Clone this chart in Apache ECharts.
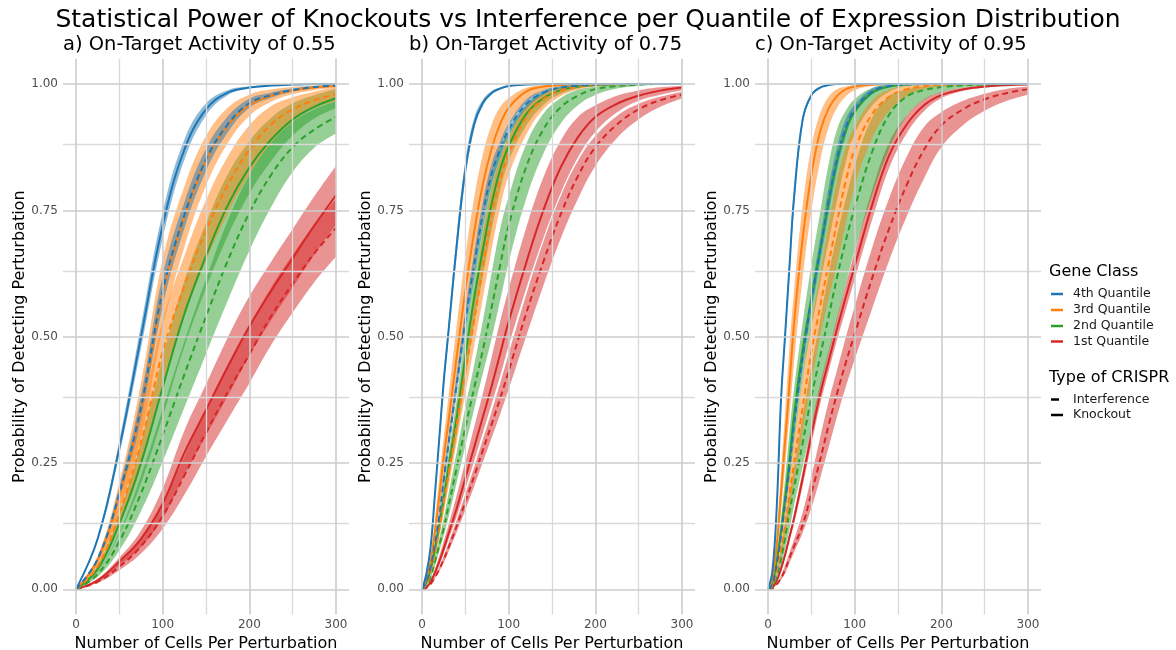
<!DOCTYPE html>
<html>
<head>
<meta charset="utf-8">
<script src="https://cdn.jsdelivr.net/npm/echarts@6/dist/echarts.min.js"></script>
<style>
  html, body { margin: 0; padding: 0; background: #ffffff; }
  #chart { width: 1176px; height: 650px; }
</style>
</head>
<body>
<div id="chart"></div>
<script>
// ---- Cell counts at which the power curves are evaluated ----
const cellsA = [0, 25, 50, 75, 100, 125, 150, 175, 200, 225, 250, 275, 300];
const cellsBC = [0, 5, 10, 15, 20, 25, 30, 40, 50, 60, 70, 80, 90, 100, 120, 140, 160, 180, 200, 225, 250, 275, 300];

// ---- Panel a: on-target activity 0.55 ----
// ko = knockout, ci = interference; 4..1 = expression quantile; lo/hi = ribbon bounds
const koA4   = [0, 0.10, 0.28, 0.50, 0.72, 0.87, 0.95, 0.983, 0.993, 0.997, 0.999, 1.0, 1.0];
const koA4lo = [0, 0.095, 0.266, 0.477, 0.694, 0.85, 0.938, 0.978, 0.991, 0.996, 0.998, 0.999, 1.0];
const koA4hi = [0, 0.105, 0.294, 0.523, 0.746, 0.89, 0.962, 0.988, 0.995, 0.998, 1.0, 1.0, 1.0];
const ciA4   = [0, 0.06, 0.19, 0.36, 0.59, 0.74, 0.85, 0.92, 0.962, 0.978, 0.988, 0.994, 0.997];
const ciA4lo = [0, 0.056, 0.178, 0.336, 0.56, 0.714, 0.828, 0.904, 0.953, 0.973, 0.985, 0.992, 0.996];
const ciA4hi = [0, 0.064, 0.202, 0.384, 0.62, 0.766, 0.872, 0.936, 0.971, 0.983, 0.991, 0.996, 0.998];
const koA3   = [0, 0.058, 0.185, 0.355, 0.585, 0.737, 0.848, 0.918, 0.958, 0.977, 0.987, 0.993, 0.996];
const koA3lo = [0, 0.05, 0.158, 0.301, 0.517, 0.677, 0.799, 0.883, 0.937, 0.965, 0.98, 0.988, 0.993];
const koA3hi = [0, 0.066, 0.212, 0.409, 0.653, 0.797, 0.897, 0.953, 0.979, 0.989, 0.994, 0.997, 0.999];
const ciA3   = [0, 0.045, 0.15, 0.29, 0.47, 0.60, 0.71, 0.80, 0.87, 0.92, 0.95, 0.968, 0.98];
const ciA3lo = [0, 0.038, 0.126, 0.242, 0.408, 0.54, 0.65, 0.744, 0.822, 0.884, 0.926, 0.952, 0.966];
const ciA3hi = [0, 0.053, 0.175, 0.338, 0.532, 0.66, 0.77, 0.856, 0.918, 0.956, 0.974, 0.985, 0.994];
const koA2   = [0, 0.04, 0.13, 0.25, 0.40, 0.545, 0.66, 0.76, 0.835, 0.89, 0.93, 0.955, 0.972];
const koA2lo = [0, 0.034, 0.109, 0.21, 0.341, 0.48, 0.596, 0.699, 0.783, 0.847, 0.898, 0.932, 0.952];
const koA2hi = [0, 0.047, 0.151, 0.291, 0.459, 0.61, 0.725, 0.821, 0.887, 0.933, 0.962, 0.978, 0.99];
const ciA2   = [0, 0.03, 0.095, 0.19, 0.305, 0.425, 0.54, 0.65, 0.745, 0.82, 0.875, 0.91, 0.935];
const ciA2lo = [0, 0.025, 0.077, 0.155, 0.253, 0.36, 0.466, 0.571, 0.67, 0.756, 0.826, 0.874, 0.902];
const ciA2hi = [0, 0.035, 0.113, 0.225, 0.357, 0.49, 0.614, 0.729, 0.82, 0.884, 0.925, 0.95, 0.966];
const koA1   = [0, 0.018, 0.055, 0.10, 0.17, 0.27, 0.355, 0.44, 0.52, 0.59, 0.655, 0.72, 0.78];
const koA1lo = [0, 0.015, 0.047, 0.084, 0.14, 0.226, 0.304, 0.382, 0.462, 0.532, 0.597, 0.662, 0.722];
const koA1hi = [0, 0.021, 0.063, 0.116, 0.20, 0.314, 0.406, 0.498, 0.58, 0.648, 0.713, 0.778, 0.838];
const ciA1   = [0, 0.015, 0.045, 0.085, 0.145, 0.225, 0.31, 0.39, 0.465, 0.54, 0.605, 0.665, 0.715];
const ciA1lo = [0, 0.013, 0.038, 0.071, 0.12, 0.187, 0.263, 0.336, 0.408, 0.483, 0.548, 0.608, 0.658];
const ciA1hi = [0, 0.017, 0.052, 0.099, 0.17, 0.263, 0.357, 0.444, 0.522, 0.597, 0.662, 0.722, 0.772];

// ---- Panel b: on-target activity 0.75 ----
const koB4   = [0, 0.03, 0.085, 0.19, 0.30, 0.41, 0.50, 0.68, 0.83, 0.92, 0.962, 0.982, 0.991, 0.996, 0.999, 1, 1, 1, 1, 1, 1, 1, 1];
const koB4lo = [0, 0.029, 0.080, 0.180, 0.287, 0.395, 0.484, 0.660, 0.812, 0.908, 0.956, 0.979, 0.989, 0.995, 0.999, 1, 1, 1, 1, 1, 1, 1, 1];
const koB4hi = [0, 0.031, 0.090, 0.200, 0.313, 0.425, 0.516, 0.700, 0.848, 0.932, 0.969, 0.986, 0.993, 0.997, 1, 1, 1, 1, 1, 1, 1, 1, 1];
const ciB4   = [0, 0.015, 0.045, 0.09, 0.145, 0.215, 0.28, 0.405, 0.53, 0.64, 0.74, 0.82, 0.87, 0.91, 0.96, 0.983, 0.993, 0.997, 0.999, 1, 1, 1, 1];
const ciB4lo = [0, 0.014, 0.042, 0.084, 0.135, 0.2015, 0.265, 0.385, 0.506, 0.615, 0.715, 0.799, 0.854, 0.898, 0.951, 0.979, 0.991, 0.996, 0.9986, 0.9996, 1, 1, 1];
const ciB4hi = [0, 0.016, 0.048, 0.096, 0.155, 0.2285, 0.295, 0.425, 0.554, 0.665, 0.765, 0.841, 0.886, 0.922, 0.969, 0.988, 0.995, 0.998, 0.9994, 1, 1, 1, 1];
const koB3   = [0, 0.02, 0.055, 0.115, 0.185, 0.26, 0.325, 0.46, 0.59, 0.705, 0.80, 0.87, 0.92, 0.953, 0.985, 0.995, 0.998, 1, 1, 1, 1, 1, 1];
const koB3lo = [0, 0.018, 0.0475, 0.096, 0.155, 0.217, 0.283, 0.40, 0.52, 0.632, 0.729, 0.81, 0.872, 0.917, 0.964, 0.987, 0.9954, 0.998, 1, 1, 1, 1, 1];
const koB3hi = [0, 0.024, 0.069, 0.14, 0.221, 0.299, 0.373, 0.522, 0.659, 0.773, 0.859, 0.918, 0.954, 0.972, 0.992, 0.9975, 1, 1, 1, 1, 1, 1, 1];
const ciB3   = [0, 0.01, 0.036, 0.073, 0.12, 0.172, 0.222, 0.325, 0.43, 0.53, 0.635, 0.735, 0.81, 0.862, 0.935, 0.97, 0.987, 0.995, 0.998, 0.9995, 1, 1, 1];
const ciB3lo = [0, 0.0092, 0.0316, 0.0638, 0.1045, 0.1503, 0.197, 0.291, 0.387, 0.48, 0.574, 0.669, 0.754, 0.819, 0.899, 0.95, 0.976, 0.989, 0.9955, 0.9985, 0.9998, 1, 1];
const ciB3hi = [0, 0.0123, 0.0427, 0.0857, 0.1387, 0.1945, 0.25, 0.363, 0.475, 0.587, 0.698, 0.789, 0.852, 0.895, 0.954, 0.981, 0.993, 0.9974, 0.9992, 1, 1, 1, 1];
const koB2   = [0, 0.013, 0.04, 0.08, 0.128, 0.18, 0.235, 0.34, 0.46, 0.575, 0.67, 0.76, 0.83, 0.877, 0.94, 0.972, 0.988, 0.995, 0.998, 0.9995, 1, 1, 1];
const koB2lo = [0, 0.0114, 0.0346, 0.0694, 0.112, 0.1586, 0.2093, 0.3038, 0.4128, 0.5246, 0.6179, 0.7088, 0.7875, 0.8474, 0.917, 0.9586, 0.9806, 0.9914, 0.9964, 0.999, 1, 1, 1];
const koB2hi = [0, 0.0146, 0.0454, 0.0906, 0.144, 0.2014, 0.2607, 0.3762, 0.5072, 0.6254, 0.7221, 0.8112, 0.8725, 0.9066, 0.958, 0.9854, 0.9954, 0.9986, 0.9996, 1, 1, 1, 1];
const ciB2   = [0, 0.008, 0.025, 0.055, 0.088, 0.12, 0.16, 0.24, 0.32, 0.397, 0.472, 0.555, 0.64, 0.72, 0.835, 0.91, 0.954, 0.977, 0.99, 0.996, 0.999, 1, 1];
const ciB2lo = [0, 0.0073, 0.0219, 0.0468, 0.076, 0.1055, 0.1382, 0.211, 0.284, 0.356, 0.4255, 0.494, 0.5705, 0.647, 0.772, 0.862, 0.922, 0.9581, 0.9782, 0.991, 0.9963, 0.999, 1];
const ciB2hi = [0, 0.0097, 0.031, 0.0649, 0.1008, 0.14, 0.184, 0.272, 0.36, 0.442, 0.5295, 0.623, 0.712, 0.7775, 0.88, 0.941, 0.9724, 0.9887, 0.9948, 0.9987, 1, 1, 1];
const koB1   = [0, 0.004, 0.015, 0.033, 0.055, 0.08, 0.107, 0.16, 0.22, 0.28, 0.34, 0.40, 0.465, 0.53, 0.645, 0.75, 0.835, 0.895, 0.935, 0.961, 0.977, 0.987, 0.993];
const koB1lo = [0, 0.0037, 0.0134, 0.029, 0.0485, 0.0707, 0.095, 0.144, 0.198, 0.253, 0.309, 0.365, 0.421, 0.482, 0.594, 0.695, 0.784, 0.855, 0.905, 0.944, 0.967, 0.979, 0.988];
const koB1hi = [0, 0.0052, 0.019, 0.0403, 0.066, 0.095, 0.124, 0.186, 0.253, 0.32, 0.386, 0.457, 0.529, 0.594, 0.714, 0.815, 0.888, 0.935, 0.958, 0.977, 0.9875, 0.9935, 0.996];
const ciB1   = [0, 0.003, 0.011, 0.024, 0.04, 0.059, 0.08, 0.125, 0.173, 0.223, 0.274, 0.325, 0.377, 0.432, 0.545, 0.648, 0.742, 0.818, 0.875, 0.92, 0.95, 0.968, 0.979];
const ciB1lo = [0, 0.0028, 0.0100, 0.0215, 0.0358, 0.0526, 0.0719, 0.113, 0.157, 0.203, 0.251, 0.298, 0.346, 0.396, 0.50, 0.601, 0.694, 0.773, 0.838, 0.8935, 0.93, 0.955, 0.9714];
const ciB1hi = [0, 0.0035, 0.0126, 0.0269, 0.0446, 0.0653, 0.088, 0.1365, 0.188, 0.241, 0.295, 0.35, 0.407, 0.466, 0.582, 0.688, 0.778, 0.848, 0.897, 0.937, 0.961, 0.975, 0.985];

// ---- Panel c: on-target activity 0.95 ----
const koC4   = [0, 0.035, 0.16, 0.375, 0.51, 0.645, 0.775, 0.93, 0.978, 0.993, 0.998, 1, 1, 1, 1, 1, 1, 1, 1, 1, 1, 1, 1];
const koC4lo = [0, 0.034, 0.153, 0.356, 0.494, 0.626, 0.752, 0.919, 0.974, 0.99, 0.997, 0.9995, 1, 1, 1, 1, 1, 1, 1, 1, 1, 1, 1];
const koC4hi = [0, 0.039, 0.173, 0.387, 0.526, 0.665, 0.789, 0.936, 0.98, 0.994, 0.998, 1, 1, 1, 1, 1, 1, 1, 1, 1, 1, 1, 1];
const ciC4   = [0, 0.01, 0.05, 0.107, 0.175, 0.245, 0.325, 0.46, 0.57, 0.67, 0.77, 0.855, 0.915, 0.95, 0.985, 0.996, 0.999, 1, 1, 1, 1, 1, 1];
const ciC4lo = [0, 0.009, 0.046, 0.0995, 0.164, 0.23, 0.308, 0.44, 0.549, 0.646, 0.744, 0.832, 0.898, 0.941, 0.979, 0.994, 0.998, 1, 1, 1, 1, 1, 1];
const ciC4hi = [0, 0.011, 0.054, 0.1145, 0.186, 0.26, 0.342, 0.48, 0.591, 0.694, 0.796, 0.878, 0.932, 0.959, 0.991, 0.998, 1, 1, 1, 1, 1, 1, 1];
const koC3   = [0, 0.02, 0.085, 0.19, 0.30, 0.41, 0.525, 0.695, 0.82, 0.905, 0.952, 0.977, 0.99, 0.995, 0.999, 1, 1, 1, 1, 1, 1, 1, 1];
const koC3lo = [0, 0.0177, 0.07, 0.154, 0.249, 0.347, 0.446, 0.617, 0.748, 0.846, 0.914, 0.954, 0.976, 0.988, 0.996, 0.999, 1, 1, 1, 1, 1, 1, 1];
const koC3hi = [0, 0.0285, 0.112, 0.233, 0.357, 0.485, 0.591, 0.76, 0.875, 0.941, 0.975, 0.99, 0.995, 0.998, 1, 1, 1, 1, 1, 1, 1, 1, 1];
const ciC3   = [0, 0.008, 0.035, 0.08, 0.13, 0.19, 0.25, 0.36, 0.47, 0.558, 0.645, 0.73, 0.81, 0.87, 0.94, 0.975, 0.99, 0.996, 0.999, 0.9997, 1, 1, 1];
const ciC3lo = [0, 0.007, 0.029, 0.064, 0.107, 0.155, 0.209, 0.31, 0.407, 0.498, 0.576, 0.647, 0.726, 0.798, 0.892, 0.947, 0.976, 0.99, 0.995, 0.998, 0.9995, 0.9999, 1];
const ciC3hi = [0, 0.0115, 0.047, 0.1, 0.161, 0.229, 0.293, 0.417, 0.529, 0.622, 0.723, 0.812, 0.876, 0.916, 0.967, 0.989, 0.996, 0.999, 1, 1, 1, 1, 1];
const koC2   = [0, 0.012, 0.055, 0.115, 0.185, 0.26, 0.345, 0.475, 0.575, 0.67, 0.765, 0.85, 0.91, 0.945, 0.983, 0.995, 0.999, 1, 1, 1, 1, 1, 1];
const koC2lo = [0, 0.0106, 0.045, 0.094, 0.153, 0.217, 0.286, 0.415, 0.517, 0.604, 0.689, 0.772, 0.847, 0.901, 0.957, 0.985, 0.996, 0.999, 1, 1, 1, 1, 1];
const koC2hi = [0, 0.0175, 0.071, 0.142, 0.224, 0.315, 0.396, 0.527, 0.642, 0.744, 0.842, 0.912, 0.948, 0.97, 0.992, 0.999, 1, 1, 1, 1, 1, 1, 1];
const ciC2   = [0, 0.005, 0.025, 0.06, 0.105, 0.155, 0.2, 0.29, 0.38, 0.46, 0.54, 0.62, 0.692, 0.755, 0.865, 0.94, 0.975, 0.988, 0.994, 0.9975, 0.999, 0.9998, 1];
const ciC2lo = [0, 0.0044, 0.0198, 0.046, 0.081, 0.12, 0.165, 0.243, 0.321, 0.398, 0.467, 0.537, 0.606, 0.67, 0.779, 0.872, 0.937, 0.969, 0.984, 0.9926, 0.9966, 0.9984, 0.9992];
const ciC2hi = [0, 0.0076, 0.0355, 0.08, 0.135, 0.189, 0.24, 0.344, 0.44, 0.532, 0.624, 0.704, 0.774, 0.838, 0.933, 0.976, 0.989, 0.995, 0.9986, 0.9996, 1, 1, 1];
const koC1   = [0, 0.004, 0.017, 0.04, 0.07, 0.105, 0.14, 0.22, 0.305, 0.385, 0.452, 0.518, 0.58, 0.64, 0.76, 0.86, 0.92, 0.958, 0.978, 0.9895, 0.995, 0.9978, 0.999];
const koC1lo = [0, 0.0036, 0.0154, 0.0364, 0.0641, 0.0971, 0.1296, 0.2051, 0.2863, 0.3647, 0.4315, 0.4953, 0.5545, 0.613, 0.7303, 0.8348, 0.9024, 0.9463, 0.9717, 0.9861, 0.9931, 0.9968, 0.9985];
const koC1hi = [0, 0.0044, 0.0186, 0.0436, 0.0759, 0.1129, 0.1504, 0.2349, 0.3237, 0.4053, 0.4725, 0.5407, 0.6055, 0.667, 0.7897, 0.8852, 0.9376, 0.9697, 0.9843, 0.9929, 0.9969, 0.9988, 0.9995];
const ciC1   = [0, 0.002, 0.01, 0.022, 0.04, 0.063, 0.085, 0.127, 0.19, 0.255, 0.325, 0.39, 0.45, 0.505, 0.615, 0.715, 0.80, 0.87, 0.918, 0.95, 0.97, 0.982, 0.99];
const ciC1lo = [0, 0.0018, 0.0085, 0.0187, 0.033, 0.053, 0.073, 0.112, 0.161, 0.219, 0.281, 0.344, 0.402, 0.455, 0.555, 0.652, 0.738, 0.813, 0.875, 0.9186, 0.947, 0.9666, 0.979];
const ciC1hi = [0, 0.0028, 0.0124, 0.0274, 0.049, 0.074, 0.098, 0.152, 0.223, 0.299, 0.372, 0.436, 0.5, 0.56, 0.675, 0.775, 0.856, 0.915, 0.944, 0.9668, 0.981, 0.9903, 0.995];

// ---- Labels, ticks and palette ----
const mainTitle = 'Statistical Power of Knockouts vs Interference per Quantile of Expression Distribution';
const panelTitles = ['a) On-Target Activity of 0.55', 'b) On-Target Activity of 0.75', 'c) On-Target Activity of 0.95'];
const xAxisTitle = 'Number of Cells Per Perturbation';
const yAxisTitle = 'Probability of Detecting Perturbation';
const geneClasses = ['4th Quantile', '3rd Quantile', '2nd Quantile', '1st Quantile'];
const classColors = ['#1f77b4', '#ff7f0e', '#2ca02c', '#d62728'];
const crisprTypes = ['Interference', 'Knockout'];
const xMajorTicks = [0, 100, 200, 300];
const xMinorTicks = [50, 150, 250];
const yMajorTicks = [0, 0.25, 0.5, 0.75, 1];
const yMinorTicks = [0.125, 0.375, 0.625, 0.875];

// Each panel: curves grouped by gene class (4th..1st), each [line, lower, upper]
const panels = [
  { cells: cellsA,
    ko: [[koA4, koA4lo, koA4hi], [koA3, koA3lo, koA3hi], [koA2, koA2lo, koA2hi], [koA1, koA1lo, koA1hi]],
    ci: [[ciA4, ciA4lo, ciA4hi], [ciA3, ciA3lo, ciA3hi], [ciA2, ciA2lo, ciA2hi], [ciA1, ciA1lo, ciA1hi]] },
  { cells: cellsBC,
    ko: [[koB4, koB4lo, koB4hi], [koB3, koB3lo, koB3hi], [koB2, koB2lo, koB2hi], [koB1, koB1lo, koB1hi]],
    ci: [[ciB4, ciB4lo, ciB4hi], [ciB3, ciB3lo, ciB3hi], [ciB2, ciB2lo, ciB2hi], [ciB1, ciB1lo, ciB1hi]] },
  { cells: cellsBC,
    ko: [[koC4, koC4lo, koC4hi], [koC3, koC3lo, koC3hi], [koC2, koC2lo, koC2hi], [koC1, koC1lo, koC1hi]],
    ci: [[ciC4, ciC4lo, ciC4hi], [ciC3, ciC3lo, ciC3hi], [ciC2, ciC2lo, ciC2hi], [ciC1, ciC1lo, ciC1hi]] }
];

// ---- Layout ----
const FONT = 'DejaVu Sans';
const panelLefts = [63, 409, 755];
const panelWidth = 286;
const panelTop = 58.8;
const panelHeight = 555.8;
const drawOrder = [3, 2, 1, 0];   // 1st quantile underneath, 4th on top
const SMOOTH = 0.4;

const majorGrid = { color: '#cccccc', width: 1.6, type: 'solid' };
const minorGrid = { color: '#d9d9d9', width: 1.3, type: 'solid' };

const grids = [], xAxes = [], yAxes = [], series = [], titles = [];

titles.push({
  text: mainTitle, left: 'center', top: 8, padding: 0,
  textStyle: { fontFamily: FONT, fontSize: 25, fontWeight: 'normal', color: '#000' }
});

panels.forEach((p, pi) => {
  grids.push({ left: panelLefts[pi], top: panelTop, width: panelWidth, height: panelHeight,
               containLabel: false, outerBoundsMode: 'none' });
  titles.push({
    text: panelTitles[pi], left: panelLefts[pi], top: 35, padding: 0,
    textStyle: { fontFamily: FONT, fontSize: 19.5, fontWeight: 'normal', color: '#000' }
  });
  xAxes.push({
    type: 'value', gridIndex: pi, min: -15, max: 315,
    axisLine: { show: false }, axisTick: { show: false }, splitLine: { show: false },
    axisLabel: { customValues: xMajorTicks, color: '#4d4d4d', fontSize: 12, fontFamily: FONT, margin: 4 },
    name: xAxisTitle, nameLocation: 'middle', nameGap: 17,
    nameTextStyle: { fontFamily: FONT, fontSize: 16, color: '#000', verticalAlign: 'top' }
  });
  yAxes.push({
    type: 'value', gridIndex: pi, min: -0.05, max: 1.05,
    axisLine: { show: false }, axisTick: { show: false }, splitLine: { show: false },
    axisLabel: { customValues: yMajorTicks, color: '#4d4d4d', fontSize: 12, fontFamily: FONT, margin: 5,
                 formatter: v => v.toFixed(2) },
    name: yAxisTitle, nameLocation: 'middle', nameGap: 34, nameRotate: 90,
    nameTextStyle: { fontFamily: FONT, fontSize: 16, color: '#000' }
  });

  // panel grid lines
  const gridLines = []
    .concat(xMinorTicks.map(v => ({ xAxis: v, lineStyle: minorGrid })))
    .concat(yMinorTicks.map(v => ({ yAxis: v, lineStyle: minorGrid })))
    .concat(xMajorTicks.map(v => ({ xAxis: v, lineStyle: majorGrid })))
    .concat(yMajorTicks.map(v => ({ yAxis: v, lineStyle: majorGrid })));
  series.push({
    type: 'line', xAxisIndex: pi, yAxisIndex: pi, data: [], silent: true, z: 0,
    markLine: { silent: true, symbol: ['none', 'none'], label: { show: false },
                emphasis: { disabled: true }, animation: false, data: gridLines }
  });

  // ribbons: lower bound plus stacked width; points are stored as [P, cells]
  // so that the stack runs along the probability dimension
  drawOrder.forEach(q => {
    ['ko', 'ci'].forEach(kind => {
      const [, lo, hi] = p[kind][q];
      const stackId = 'band-' + pi + '-' + q + '-' + kind;
      series.push({
        type: 'line', xAxisIndex: pi, yAxisIndex: pi, stack: stackId, stackStrategy: 'all',
        encode: { x: 1, y: 0 },
        data: p.cells.map((x, i) => [lo[i], x]),
        smooth: SMOOTH, symbol: 'none', showSymbol: false, silent: true, z: 1,
        lineStyle: { width: 0, opacity: 0 }
      });
      series.push({
        type: 'line', xAxisIndex: pi, yAxisIndex: pi, stack: stackId, stackStrategy: 'all',
        encode: { x: 1, y: 0 },
        data: p.cells.map((x, i) => [hi[i] - lo[i], x]),
        smooth: SMOOTH, symbol: 'none', showSymbol: false, silent: true, z: 1,
        lineStyle: { width: 0, opacity: 0 },
        areaStyle: { color: classColors[q], opacity: 0.5 }
      });
    });
  });

  // power curves
  drawOrder.forEach(q => {
    ['ko', 'ci'].forEach(kind => {
      const [line] = p[kind][q];
      series.push({
        type: 'line', xAxisIndex: pi, yAxisIndex: pi,
        name: geneClasses[q] + ' ' + (kind === 'ko' ? crisprTypes[1] : crisprTypes[0]),
        data: p.cells.map((x, i) => [x, line[i]]),
        smooth: SMOOTH, symbol: 'none', showSymbol: false, silent: true, z: 3,
        lineStyle: { color: classColors[q], width: 2, type: kind === 'ko' ? 'solid' : [6, 4], cap: 'butt' }
      });
    });
  });
});

// ---- Legend (drawn as graphic keys) ----
const legendX = 1049, keyX = 1051, textX = 1073;
const classRowY = [294, 310, 326, 341.5];
const typeRowY = [399.5, 415];
const graphic = [];
graphic.push({ type: 'text', x: legendX, y: 272, silent: true,
  style: { text: 'Gene Class', fontFamily: FONT, fontSize: 16, fill: '#000', verticalAlign: 'middle' } });
geneClasses.forEach((g, i) => {
  graphic.push({ type: 'line', silent: true,
    shape: { x1: keyX, y1: classRowY[i], x2: keyX + 12, y2: classRowY[i] },
    style: { stroke: classColors[i], lineWidth: 2.5 } });
  graphic.push({ type: 'text', x: textX, y: classRowY[i], silent: true,
    style: { text: g, fontFamily: FONT, fontSize: 12.5, fill: '#1a1a1a', verticalAlign: 'middle' } });
});
graphic.push({ type: 'text', x: legendX, y: 378, silent: true,
  style: { text: 'Type of CRISPR', fontFamily: FONT, fontSize: 16, fill: '#000', verticalAlign: 'middle' } });
crisprTypes.forEach((t, i) => {
  graphic.push({ type: 'line', silent: true,
    shape: { x1: keyX, y1: typeRowY[i], x2: keyX + (t === 'Interference' ? 8 : 12), y2: typeRowY[i] },
    style: { stroke: '#000', lineWidth: 2.5 } });
  graphic.push({ type: 'text', x: textX, y: typeRowY[i], silent: true,
    style: { text: t, fontFamily: FONT, fontSize: 12.5, fill: '#1a1a1a', verticalAlign: 'middle' } });
});

const chart = echarts.init(document.getElementById('chart'), null, { renderer: 'canvas' });
chart.setOption({
  animation: false,
  backgroundColor: '#ffffff',
  textStyle: { fontFamily: FONT },
  title: titles,
  grid: grids,
  xAxis: xAxes,
  yAxis: yAxes,
  series: series,
  graphic: graphic
});
</script>
</body>
</html>
